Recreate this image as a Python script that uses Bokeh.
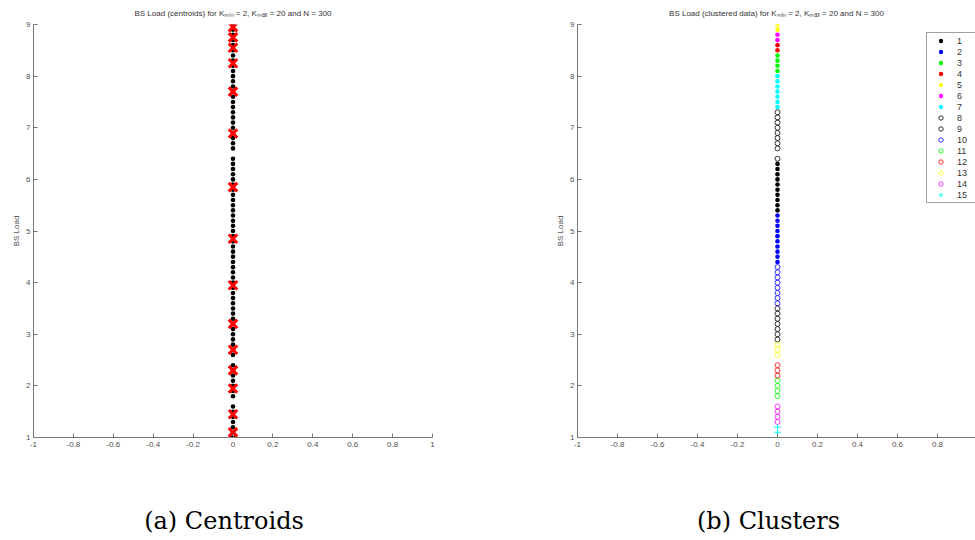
from bokeh.plotting import figure
from bokeh.layouts import row, column
from bokeh.models import Range1d, FixedTicker, NumeralTickFormatter, Label, Legend, LegendItem
from bokeh.embed import file_html
from bokeh.resources import INLINE

# ---- data (BS load values, all points lie at x = 0) ----
cluster_labels = [str(i) for i in range(1, 16)]
c1 = [6.3, 6.2, 6.1, 6.0, 5.9, 5.8, 5.7, 5.6, 5.5, 5.4]
c2 = [5.3, 5.2, 5.1, 5.0, 4.9, 4.8, 4.7, 4.6, 4.5, 4.4]
c3 = [8.4, 8.3, 8.2, 8.1]
c4 = [8.6, 8.5]
c5 = [9.0, 8.9]
c6 = [8.8, 8.7]
c7 = [8.0, 7.9, 7.8, 7.7, 7.6, 7.5, 7.4]
c8 = [7.3, 7.2, 7.1, 7.0, 6.9, 6.8, 6.7, 6.6, 6.4]
c9 = [3.5, 3.4, 3.3, 3.2, 3.1, 3.0, 2.9]
c10 = [4.3, 4.2, 4.1, 4.0, 3.9, 3.8, 3.7, 3.6]
c11 = [2.1, 2.0, 1.9, 1.8]
c12 = [2.4, 2.3, 2.2]
c13 = [2.8, 2.7, 2.6]
c14 = [1.6, 1.5, 1.4, 1.3]
c15 = [1.2, 1.1, 1.0]
centroids = [5.85, 4.85, 8.25, 8.55, 8.95, 8.75, 7.7, 6.89, 3.2, 3.95, 1.95, 2.3, 2.7, 1.45, 1.1]
x_ticks_a = [-1, -0.8, -0.6, -0.4, -0.2, 0, 0.2, 0.4, 0.6, 0.8, 1]
x_ticks_b = [-1, -0.8, -0.6, -0.4, -0.2, 0, 0.2, 0.4, 0.6, 0.8]
y_ticks = [1, 2, 3, 4, 5, 6, 7, 8, 9]
title_a = "BS Load (centroids) for K\u2098\u1d62\u2099 = 2, K\u2098\u2090\u2093 = 20 and N = 300"
title_b = "BS Load (clustered data) for K\u2098\u1d62\u2099 = 2, K\u2098\u2090\u2093 = 20 and N = 300"
caption_a = "(a) Centroids"
caption_b = "(b) Clusters"

clusters = [c1, c2, c3, c4, c5, c6, c7, c8, c9, c10, c11, c12, c13, c14, c15]
colors = ["#000000", "#0000ff", "#00ff00", "#ff0000", "#ffff00", "#ff00ff", "#00ffff",
          "#000000", "#000000", "#0000ff", "#00ff00", "#ff0000", "#ffff00", "#ff00ff", "#00ffff"]
kinds = ["dot"] * 7 + ["open"] * 7 + ["plus"]

AXC = "#777777"
LBLC = "#505050"
FONT = "Liberation Sans"
CAP_FONT = "DejaVu Serif"


def style(p, xticks):
    p.xaxis.ticker = FixedTicker(ticks=xticks)
    p.yaxis.ticker = FixedTicker(ticks=y_ticks)
    p.xaxis.formatter = NumeralTickFormatter(format="0.[0]")
    p.yaxis.formatter = NumeralTickFormatter(format="0")
    for ax in p.xaxis + p.yaxis:
        ax.axis_line_color = AXC
        ax.major_tick_line_color = AXC
        ax.major_tick_in = 4
        ax.major_tick_out = 0
        ax.minor_tick_line_color = None
        ax.major_label_text_font = FONT
        ax.major_label_text_font_size = "8px"
        ax.major_label_text_color = LBLC
    p.xaxis.major_label_standoff = 4
    p.yaxis.major_label_standoff = 3
    p.yaxis.axis_label = "BS Load"
    p.yaxis.axis_label_text_font = FONT
    p.yaxis.axis_label_text_font_size = "8px"
    p.yaxis.axis_label_text_font_style = "normal"
    p.yaxis.axis_label_text_color = LBLC
    p.yaxis.axis_label_standoff = 2
    p.xgrid.visible = False
    p.ygrid.visible = False
    p.outline_line_color = None
    p.title.text_font = FONT
    p.title.text_font_size = "8px"
    p.title.text_font_style = "normal"
    p.title.text_color = "#333333"
    p.title.align = "center"
    p.title.standoff = 13


def caption_fig(w, text, cx):
    c = figure(width=w, height=60, x_range=Range1d(0, 1), y_range=Range1d(0, 1),
               x_axis_location=None, y_axis_location=None,
               output_backend="svg", toolbar_location=None,
               min_border_left=0, min_border_right=0, min_border_top=0, min_border_bottom=0)
    c.outline_line_color = None
    c.xgrid.visible = False
    c.ygrid.visible = False
    c.add_layout(Label(x=cx, y=20, x_units="screen", y_units="screen", text=text,
                       text_font=CAP_FONT, text_font_size="24px", text_align="center",
                       text_baseline="middle", text_color="black"))
    return c


# ---- (a) centroids ----
p1 = figure(width=487, height=480, x_range=Range1d(-1, 1), y_range=Range1d(1, 9),
            output_backend="svg", toolbar_location=None, title=title_a,
            min_border_left=33, min_border_right=55, min_border_top=23, min_border_bottom=43)
all_vals = [v for c in clusters for v in c]
p1.scatter([0] * len(all_vals), all_vals, marker="circle", size=4.6,
           fill_color="black", line_color=None)
p1.scatter([0] * len(centroids), centroids, marker="x", size=12,
           line_color="#ff0000", line_width=3)
style(p1, x_ticks_a)

# ---- (b) clusters ----
p2 = figure(width=488, height=480, x_range=Range1d(-1, 0.99), y_range=Range1d(1, 9),
            output_backend="svg", toolbar_location=None, title=title_b,
            min_border_left=90, min_border_right=0, min_border_top=23, min_border_bottom=43)
items = []
for lab, vals, col, kind in zip(cluster_labels, clusters, colors, kinds):
    xs = [0] * len(vals)
    if kind == "dot":
        r = p2.scatter(xs, vals, marker="circle", size=4.6, fill_color=col, line_color=None)
    elif kind == "open":
        r = p2.scatter(xs, vals, marker="circle", size=5, fill_color=None, line_color=col, line_width=0.8)
    else:
        r = p2.scatter(xs, vals, marker="cross", size=6.5, line_color=col, line_width=1)
    items.append(LegendItem(label=lab, renderers=[r]))
style(p2, x_ticks_b)
legend = Legend(items=items, location=(349, 234), margin=0, padding=2, spacing=0,
                label_height=11, glyph_height=11, glyph_width=23, label_standoff=5,
                label_text_font=FONT, label_text_font_size="9px", label_text_color="#333333",
                border_line_color="#444444", border_line_width=1, background_fill_alpha=1)
p2.add_layout(legend)

cap1 = caption_fig(487, caption_a, 223.5)
cap2 = caption_fig(488, caption_b, 281)

layout = column(row(p1, p2, spacing=0), row(cap1, cap2, spacing=0), spacing=0)
open("out.html", "w").write(file_html(layout, INLINE))
